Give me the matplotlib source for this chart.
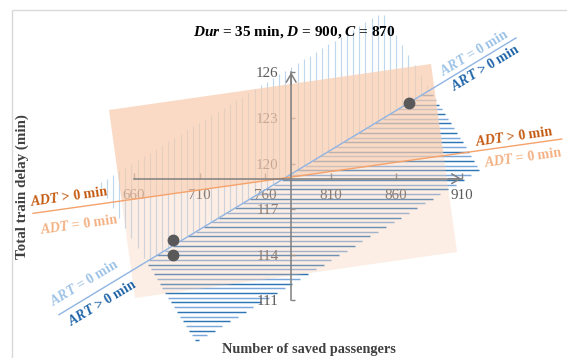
import numpy as np
import matplotlib.pyplot as plt
from matplotlib.patches import Polygon, Rectangle

plt.rcParams['font.family'] = ['Liberation Serif', 'DejaVu Serif']
plt.rcParams['mathtext.fontset'] = 'custom'
plt.rcParams['mathtext.it'] = 'Liberation Serif:italic:bold'
plt.rcParams['mathtext.rm'] = 'Liberation Serif:bold'
plt.rcParams['mathtext.bf'] = 'Liberation Serif:bold'

# axis ticks and where the two axes cross
x_ticks = [660, 710, 760, 810, 860, 910]
y_ticks = [111, 114, 117, 120, 123, 126]
x_cross = 780
y_cross = 119

# solutions
sol_x = [870, 690, 690]
sol_y = [124, 115, 114]

# ART = 0 and ADT = 0 boundary lines
art_x = [602.7, 951.6]
art_y = [110.05, 128.26]
adt_x = [582.9, 986.5]
adt_y = [116.72, 121.61]

# regions (corner points)
art_pos_region = [(886.0, 124.84), (924.1, 119.57), (707.3, 108.26), (669.2, 113.52)]
art_zero_region = [(886.0, 124.84), (849.3, 129.97), (632.5, 118.65), (669.2, 113.52)]
adt_region = [(640.9, 123.52), (886.7, 126.55), (906.6, 114.18), (660.8, 111.15)]


def span(poly, c, vertical):
    # min/max where the line x=c (or y=c) cuts a convex polygon
    hits = []
    for (x0, y0), (x1, y1) in zip(poly, poly[1:] + poly[:1]):
        a0, a1, b0, b1 = (x0, x1, y0, y1) if vertical else (y0, y1, x0, x1)
        if a0 != a1 and (a0 - c) * (a1 - c) <= 0:
            hits.append(b0 + (c - a0) / (a1 - a0) * (b1 - b0))
    return min(hits), max(hits)


fig = plt.figure(figsize=(5.67, 3.58), dpi=100)
ax = fig.add_axes([0, 0, 1, 1])
ax.set_xlim(557.71, 990.53)
ax.set_ylim(107.204, 130.757)
ax.set_facecolor('none')

# vertical hatch: ART = 0 side
xs = np.arange(min(p[0] for p in art_zero_region) + 2, max(p[0] for p in art_zero_region), 4.7)
lo, hi = zip(*[span(art_zero_region, x, True) for x in xs])
ax.vlines(xs, lo, hi, colors='#BDD7EE', lw=0.85, zorder=1)

# horizontal hatch: ART > 0 side
ys = np.arange(min(p[1] for p in art_pos_region) + 0.12, max(p[1] for p in art_pos_region), 0.31)
lo, hi = zip(*[span(art_pos_region, y, False) for y in ys])
cols = ['#2E75B6' if i % 2 == 0 else '#7AA8DA' for i in range(len(ys))]
ax.hlines(ys, lo, hi, colors=cols, lw=1.05, zorder=1)

# ADT region, stronger above the ADT = 0 line
k = (adt_y[1] - adt_y[0]) / (adt_x[1] - adt_x[0])
ex = np.array([400.0, 1200.0])
ey = adt_y[0] + k * (ex - adt_x[0])
above = Polygon([(ex[0], ey[0]), (ex[1], ey[1]), (ex[1], 200), (ex[0], 200)], transform=ax.transData)
below = Polygon([(ex[0], ey[0]), (ex[1], ey[1]), (ex[1], 0), (ex[0], 0)], transform=ax.transData)
p1 = ax.add_patch(Polygon(adt_region, closed=True, fc='#F8CBAD', ec='none', alpha=0.7, zorder=2))
p1.set_clip_path(above)
p2 = ax.add_patch(Polygon(adt_region, closed=True, fc='#F8CBAD', ec='none', alpha=0.32, zorder=2))
p2.set_clip_path(below)

ax.plot(art_x, art_y, color='#8FB4E3', lw=1.0, zorder=3)
ax.plot(adt_x, adt_y, color='#F5A26B', lw=1.0, zorder=3)

# axes through the crossing point
for s in ['top', 'right']:
    ax.spines[s].set_visible(False)
ax.spines['left'].set_position(('data', x_cross))
ax.spines['bottom'].set_position(('data', y_cross))
ax.spines['left'].set_bounds(y_ticks[0], y_ticks[-1])
ax.spines['bottom'].set_bounds(x_ticks[0], x_ticks[-1])
for s in ['left', 'bottom']:
    ax.spines[s].set_color('#7F7F7F')
    ax.spines[s].set_linewidth(1.1)
    ax.spines[s].set_zorder(4)
ax.set_xticks(x_ticks)
ax.set_yticks(y_ticks)
ax.tick_params(axis='x', direction='in', length=4, width=1.0, color='#7F7F7F',
               labelcolor='#595959', labelsize=10.8, pad=7.3)
ax.tick_params(axis='y', direction='in', length=3, width=1.0, color='#7F7F7F',
               labelcolor='#595959', labelsize=10.8, pad=9)
arrow = dict(arrowstyle='->,head_length=0.6,head_width=0.35', color='#7F7F7F', lw=1.1,
             shrinkA=0, shrinkB=0)
ax.annotate('', xy=(x_ticks[-1], y_cross), xytext=(x_ticks[-1] - 10, y_cross), arrowprops=arrow, zorder=4)
ax.annotate('', xy=(x_cross, y_ticks[-1]), xytext=(x_cross, y_ticks[-1] - 0.8), arrowprops=arrow, zorder=4)

ax.plot(sol_x, sol_y, 'o', color='#595959', ms=7.5, zorder=5)

# line labels
lab = dict(ha='center', va='center', fontsize=10, fontweight='bold', rotation_mode='anchor', zorder=6)
ax.text(919.5, 127.27, r'$ART$ = 0 min', color='#9DC3E6', rotation=31, **lab)
ax.text(928.0, 126.28, r'$ART$ > 0 min', color='#1F65A8', rotation=31, **lab)
ax.text(621.8, 112.14, r'$ART$ = 0 min', color='#9DC3E6', rotation=31, **lab)
ax.text(635.6, 110.82, r'$ART$ > 0 min', color='#1F65A8', rotation=31, **lab)
ax.text(610.4, 117.80, r'$ADT$ > 0 min', color='#C55A11', rotation=8, **lab)
ax.text(618.0, 116.00, r'$ADT$ = 0 min', color='#F4B183', rotation=8, **lab)
ax.text(950.0, 121.74, r'$ADT$ > 0 min', color='#C55A11', rotation=8, **lab)
ax.text(957.0, 120.36, r'$ADT$ = 0 min', color='#F4B183', rotation=8, **lab)

fig.text(294 / 567, 1 - 32 / 358, r'$Dur$ = 35 min, $D$ = 900, $C$ = 870',
         ha='center', va='center', fontsize=11, fontweight='bold', color='black')
fig.text(22 / 567, 1 - 187 / 358, 'Total train delay (min)', rotation=90,
         ha='center', va='center', fontsize=10.8, fontweight='bold', color='#404040')
fig.text(309 / 567, 1 - 350 / 358, 'Number of saved passengers',
         ha='center', va='center', fontsize=10.3, fontweight='bold', color='#404040')

fig.patches.append(Rectangle((12 / 567, -0.1), 1.0, 1.1 - 10 / 358, transform=fig.transFigure,
                             fill=False, ec='#D9D9D9', lw=1.0))

fig.savefig('out.png', dpi=100)
